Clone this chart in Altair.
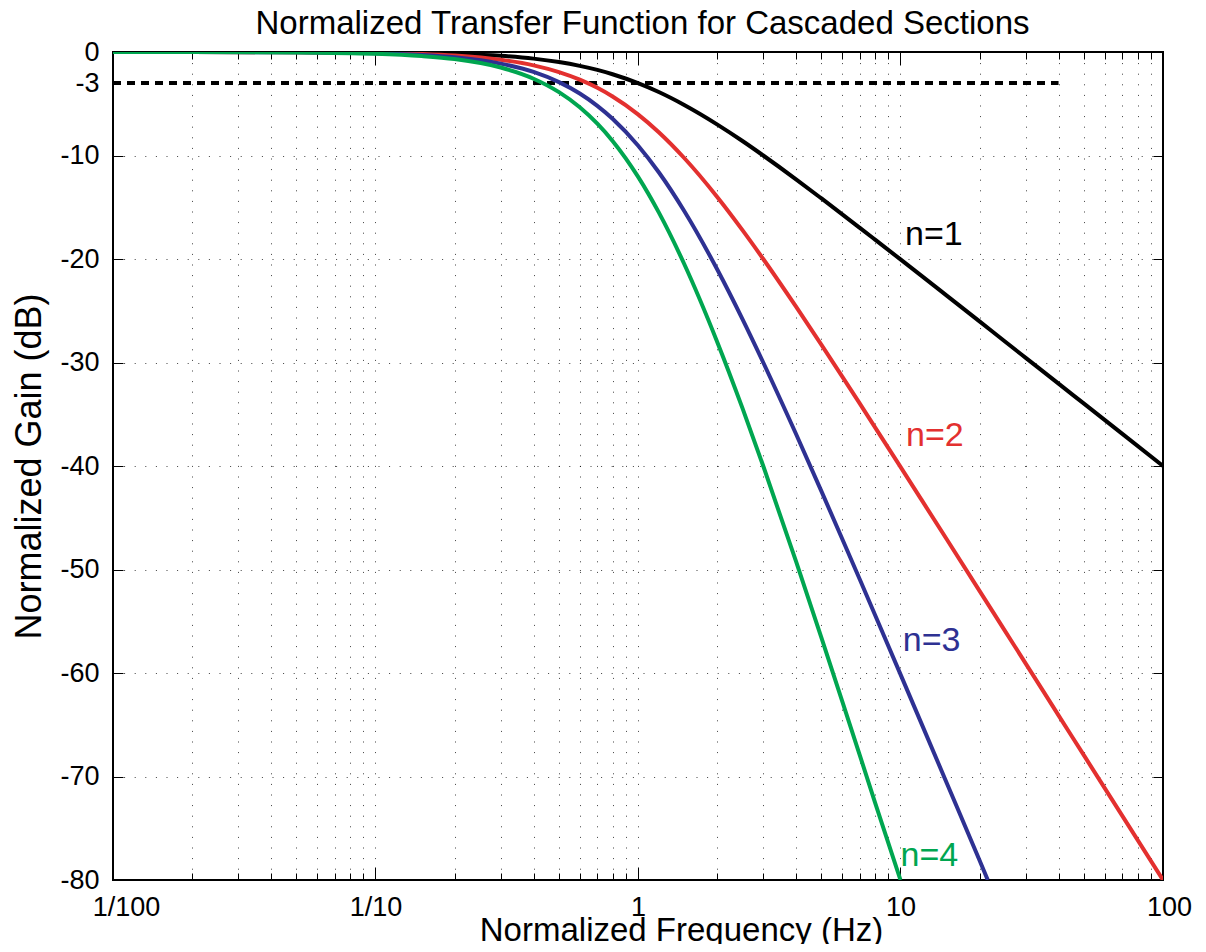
import math
import altair as alt
import pandas as pd

# ---------------- data ----------------
series_names = ["n=1", "n=2", "n=3", "n=4"]
series_colors = ["#000000", "#e3302f", "#2e3192", "#00a650"]

freq_n1 = [0.01, 0.02, 0.05, 0.1, 0.15, 0.2, 0.3, 0.4, 0.5, 0.6, 0.7, 0.8,
           1, 1.2, 1.5, 2, 2.5, 3, 4, 5, 6, 7, 8,
           10, 12, 15, 20, 25, 30, 40, 50, 70, 100]
gain_n1 = [0.0, 0.0, -0.01, -0.04, -0.10, -0.17, -0.37, -0.64, -0.97, -1.34, -1.73, -2.15,
           -3.01, -3.87, -5.12, -6.99, -8.60, -10.0, -12.30, -14.15, -15.68, -16.99, -18.13,
           -20.04, -21.61, -23.54, -26.03, -27.97, -29.55, -32.04, -33.98, -36.90, -40.0]

freq_n2 = [0.01, 0.02, 0.05, 0.1, 0.15, 0.2, 0.3, 0.4, 0.5, 0.6, 0.7, 0.8,
           1, 1.2, 1.5, 2, 2.5, 3, 4, 5, 6, 7, 8,
           10, 12, 15, 20, 25, 30, 40, 50, 70, 100]
gain_n2 = [0.0, 0.0, -0.02, -0.09, -0.19, -0.34, -0.75, -1.29, -1.94, -2.67, -3.46, -4.30,
           -6.02, -7.75, -10.24, -13.98, -17.21, -20.0, -24.61, -28.30, -31.36, -33.98, -36.26,
           -40.09, -43.23, -47.08, -52.06, -55.93, -59.09, -64.09, -67.96, -73.81, -80.0]

freq_n3 = [0.01, 0.02, 0.05, 0.1, 0.15, 0.2, 0.3, 0.4, 0.5, 0.6, 0.7, 0.8,
           1, 1.2, 1.5, 2, 2.5, 3, 4, 5, 6, 7, 8,
           10, 12, 15, 20, 21.5]
gain_n3 = [0.0, 0.0, -0.03, -0.13, -0.29, -0.51, -1.12, -1.93, -2.91, -4.01, -5.20, -6.45,
           -9.03, -11.62, -15.36, -20.97, -25.81, -30.0, -36.91, -42.45, -47.05, -50.97, -54.39,
           -60.13, -64.84, -70.62, -78.09, -80.0]

freq_n4 = [0.01, 0.02, 0.05, 0.1, 0.15, 0.2, 0.3, 0.4, 0.5, 0.6, 0.7, 0.8,
           1, 1.2, 1.5, 2, 2.5, 3, 4, 5, 6, 7, 8,
           10]
gain_n4 = [0.0, 0.0, -0.04, -0.17, -0.39, -0.68, -1.50, -2.58, -3.88, -5.34, -6.93, -8.59,
           -12.04, -15.50, -20.48, -27.96, -34.41, -40.0, -49.22, -56.60, -62.73, -67.96, -72.52,
           -80.0]

# curve annotations
label_freq = [10.4, 10.5, 10.2, 10.0]
label_gain = [-17.7, -37.1, -56.9, -77.7]

# -3 dB reference line
ref_start = 0.01
ref_end = 40
ref_level = -3

# axes
x_tick_values = [0.01, 0.1, 1, 10, 100]
x_tick_labels = ["1/100", "1/10", "1", "10", "100"]
y_tick_values = [0, -3, -10, -20, -30, -40, -50, -60, -70, -80]
y_grid_values = [-10, -20, -30, -40, -50, -60, -70]

chart_title = "Normalized Transfer Function for Cascaded Sections"
x_title = "Normalized Frequency (Hz)"
y_title = "Normalized Gain (dB)"

# ---------------- tables ----------------
rows = []
for name, fr, gn in zip(series_names,
                        [freq_n1, freq_n2, freq_n3, freq_n4],
                        [gain_n1, gain_n2, gain_n3, gain_n4]):
    for f, g in zip(fr, gn):
        rows.append({"series": name, "freq": f, "gain": g})
df = pd.DataFrame(rows)

labels_df = pd.DataFrame({"series": series_names, "freq": label_freq, "gain": label_gain})
ref_df = pd.DataFrame({"x": [ref_start], "x2": [ref_end], "y": [ref_level]})

# minor/major log positions for grid and ticks
x_all = []
for k in range(-2, 2):
    for m in range(1, 10):
        x_all.append(round(m * 10 ** k, 6))
x_all.append(100)

FONT = "Liberation Sans"
W, H = 1050, 828

xscale = alt.Scale(type="log", domain=[0.01, 100], nice=False)
yscale = alt.Scale(domain=[-80, 0], nice=False, zero=False)
color_scale = alt.Scale(domain=series_names, range=series_colors)

# label expression for x ticks
label_expr = "'" + x_tick_labels[-1] + "'"
for v, l in reversed(list(zip(x_tick_values[:-1], x_tick_labels[:-1]))):
    label_expr = f"datum.value < {v * math.sqrt(10):.6f} ? '{l}' : " + label_expr

major_test = "abs(log(datum.value)/LN10 - round(log(datum.value)/LN10)) < 0.001"
x_tick_size = {"condition": {"test": major_test, "value": 13}, "value": 7}

common_axis = dict(labelFont=FONT, titleFont=FONT, labelColor="black", titleColor="black",
                   titleFontWeight="normal")

# main labeled axes
x_main = alt.Axis(orient="bottom", values=x_tick_values, labelExpr=label_expr,
                  labelFontSize=27, labelPadding=14, ticks=False, tickSize=0, domain=False,
                  grid=False, labelFlush=False,
                  labelOffset={"condition": [{"test": "datum.value < 0.02", "value": 13},
                                             {"test": "datum.value > 50", "value": 6}],
                               "value": 0},
                  title=x_title, titleFontSize=33,
                  titleBaseline="alphabetic", titleX=568, titleY=60, **common_axis)
y_main = alt.Axis(orient="left", values=y_tick_values, labelExpr="'' + datum.value",
                  labelFontSize=27, labelPadding=14,
                  ticks=False, tickSize=0, domain=False, grid=False,
                  title=y_title, titleFontSize=36,
                  titleBaseline="alphabetic", titleX=-73, **common_axis)

# chart title carried by a bare top axis
x_title_axis = alt.Axis(orient="top", labels=False, ticks=False, domain=False, grid=False,
                        title=chart_title, titleFontSize=33, titleBaseline="alphabetic",
                        titleY=-19, titleX=529, **common_axis)

# grid axes
x_grid = alt.Axis(orient="bottom", values=x_all, labels=False, ticks=False, domain=False,
                  grid=True, gridDash=[1, 9.6], gridColor="#000000", gridOpacity=0.75,
                  gridWidth=1, title=None)
y_grid = alt.Axis(orient="left", values=y_grid_values, labels=False, ticks=False, domain=False,
                  grid=True, gridDash=[1, 9.6], gridColor="#000000", gridOpacity=0.75,
                  gridWidth=1, title=None)

# inward ticks: bottom edge (top-orient axis shifted down) and left edge
x_tick_bottom = alt.Axis(orient="top", offset=-H, values=x_all, labels=False, ticks=True,
                         tickSize=x_tick_size, tickColor="black", tickWidth=1,
                         domain=False, grid=False, title=None)
y_tick_left = alt.Axis(orient="right", offset=-W, values=y_grid_values, labels=False,
                       ticks=True, tickSize=10, tickColor="black", tickWidth=1,
                       domain=False, grid=False, title=None)
# inward ticks: top edge and right edge
x_tick_top = alt.Axis(orient="bottom", offset=-H, values=x_all, labels=False, ticks=True,
                      tickSize=x_tick_size, tickColor="black", tickWidth=1,
                      domain=False, grid=False, title=None)
y_tick_right = alt.Axis(orient="left", offset=-W, values=y_grid_values, labels=False,
                        ticks=True, tickSize=10, tickColor="black", tickWidth=1,
                        domain=False, grid=False, title=None)

base = alt.Chart(df)


def xy(xa, ya):
    return dict(x=alt.X("freq:Q", scale=xscale, axis=xa),
                y=alt.Y("gain:Q", scale=yscale, axis=ya))


grid_layer = base.mark_point(opacity=0).encode(**xy(x_grid, y_grid))
ticks_a = base.mark_point(opacity=0).encode(**xy(x_tick_bottom, y_tick_left))
ticks_b = base.mark_point(opacity=0).encode(**xy(x_tick_top, y_tick_right))
title_layer = base.mark_point(opacity=0).encode(**xy(x_title_axis, None))

ref_line = alt.Chart(ref_df).mark_rule(strokeDash=[8, 6], strokeWidth=4, color="black",
                                       strokeCap="butt").encode(
    x=alt.X("x:Q", scale=xscale, axis=None),
    x2="x2:Q",
    y=alt.Y("y:Q", scale=yscale, axis=None),
)

lines = base.mark_line(strokeWidth=4, interpolate="monotone", clip=True).encode(
    color=alt.Color("series:N", scale=color_scale, legend=None),
    **xy(x_main, y_main),
)

texts = alt.Chart(labels_df).mark_text(font=FONT, fontSize=34, align="left",
                                       baseline="middle").encode(
    x=alt.X("freq:Q", scale=xscale, axis=None),
    y=alt.Y("gain:Q", scale=yscale, axis=None),
    text="series:N",
    color=alt.Color("series:N", scale=color_scale, legend=None),
)

chart = alt.layer(grid_layer, ticks_a, ticks_b, title_layer, ref_line, lines, texts).resolve_axis(
    x="independent", y="independent"
).properties(
    width=W, height=H,
    autosize=alt.AutoSizeParams(type="none"),
    padding={"left": 105, "top": 44, "right": 35, "bottom": 64},
).configure_view(stroke="black", strokeWidth=2)

chart.save("out.html", embed_options={"renderer": "svg", "actions": False})
